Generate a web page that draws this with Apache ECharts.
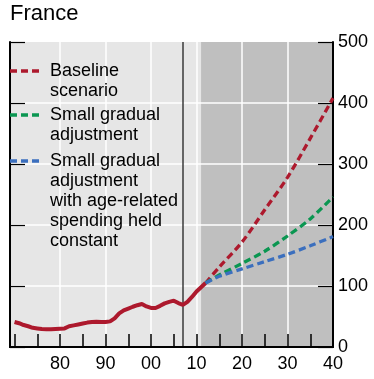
<!DOCTYPE html>
<html>
<head>
<meta charset="utf-8">
<script src="https://cdn.jsdelivr.net/npm/echarts@6/dist/echarts.min.js"></script>
<style>
html,body{margin:0;padding:0;background:#fff;}
#chart{width:374px;height:379px;}
</style>
</head>
<body>
<div id="chart"></div>
<script>
// ---- data ----
const histYears = [1970,1971,1972,1973,1974,1975,1976,1977,1978,1979,1980,1981,1982,1983,1984,1985,1986,1987,1988,1989,1990,1991,1992,1993,1994,1995,1996,1997,1998,1999,2000,2001,2002,2003,2004,2005,2006,2007,2008,2009,2010,2011,2012];
const histValues = [41,39,36,34,31.5,30.5,29.5,29,29,29.5,30,30.5,34,35.5,37,38.5,40,41,41.5,41,41,42,47,55,60,63,66,68.5,70.5,66.5,64,64,67.5,71.5,74,76,72,69,74,82,91,98,105];
const projYears = [2012,2015,2020,2025,2030,2035,2040];
const baseline = [105,131,172,225,278,342,408];
const smallAdj = [105,118,137,157,182,210,246];
const smallAdjAge = [105,116,128,140,152,166,181];
const xLabelYears = [1980,1990,2000,2010,2020,2030,2040];
const xTickYears = [1970,1975,1980,1985,1990,1995,2000,2005,2010,2015,2020,2025,2030,2035];
const gridYears = [1980,1990,2000,2010,2020,2030];
const gridValues = [100,200,300,400];
const cutoffYear = 2007;
const projStart = 2011;
const legendNames = ['Baseline\nscenario','Small gradual\nadjustment','Small gradual\nadjustment\nwith age-related\nspending held\nconstant'];
const titleText = 'France';

// ---- style ----
const FONT = '"Liberation Sans", Arial, Helvetica, sans-serif';
const RED = '#ad192d', GREEN = '#0a9651', BLUE = '#3b6fbe';
const xMin = 1969, xMax = 2040;

const pair = (xs, ys) => xs.map((x, i) => [x, ys[i]]);

const chart = echarts.init(document.getElementById('chart'), null, {renderer: 'canvas'});

const axisLineStyle = {lineStyle: {color: '#000', width: 2}};

const markLineData = [];
gridYears.forEach(y => markLineData.push({xAxis: y, lineStyle: {color: '#fff', width: 1.5, type: 'solid'}}));
gridValues.forEach(v => markLineData.push({yAxis: v, lineStyle: {color: '#fff', width: 1.5, type: 'solid'}}));
markLineData.push({xAxis: cutoffYear, lineStyle: {color: '#3a3a3a', width: 1.5, type: 'solid'}});

const legendTops = [61, 105, 151];
const legendColors = [RED, GREEN, BLUE];
const graphics = [{
  type: 'text', left: 10, top: 3, z: 100,
  style: {text: titleText, font: '22px ' + FONT, fill: '#000'}
}];
legendNames.forEach((name, i) => {
  graphics.push({
    type: 'line', z: 100,
    shape: {x1: 10, y1: legendTops[i] + 10, x2: 41, y2: legendTops[i] + 10},
    style: {stroke: legendColors[i], lineWidth: 3.3, lineDash: [7, 4]}
  });
  graphics.push({
    type: 'text', z: 100, x: 50, y: legendTops[i],
    style: {text: name, font: '18px ' + FONT, fill: '#000', lineHeight: 20, verticalAlign: 'top'}
  });
});

const option = {
  animation: false,
  backgroundColor: '#fff',
  textStyle: {fontFamily: FONT},
  grid: {left: 10, right: 41, top: 42, bottom: 32, show: true, backgroundColor: '#e6e6e6', borderWidth: 0, containLabel: false},
  xAxis: [{
    type: 'value', min: xMin, max: xMax, position: 'bottom', z: 6,
    axisLine: axisLineStyle,
    axisTick: {show: true, inside: true, length: 13, customValues: xTickYears, lineStyle: {color: '#000', width: 1.5}},
    axisLabel: {customValues: xLabelYears, fontSize: 18, color: '#000', margin: 8, fontFamily: FONT,
      formatter: v => String(v % 100).padStart(2, '0')},
    splitLine: {show: false}
  }, {
    type: 'value', min: xMin, max: xMax, position: 'top', z: 6,
    axisLine: axisLineStyle, axisTick: {show: false}, axisLabel: {show: false}, splitLine: {show: false}
  }],
  yAxis: [{
    type: 'value', min: 0, max: 500, interval: 100, position: 'right', z: 6,
    axisLine: {show: true, lineStyle: {color: '#000', width: 2}},
    axisTick: {show: true, inside: true, length: 15, lineStyle: {color: '#000', width: 1.2}},
    axisLabel: {fontSize: 18, color: '#000', margin: 5, fontFamily: FONT},
    splitLine: {show: false}
  }, {
    type: 'value', min: 0, max: 500, interval: 100, position: 'left', z: 6,
    axisLine: {show: true, lineStyle: {color: '#000', width: 2}},
    axisTick: {show: true, inside: true, length: 15, lineStyle: {color: '#000', width: 1.2}},
    axisLabel: {show: false},
    splitLine: {show: false}
  }],
  series: [{
    name: 'shade', type: 'line', data: [], z: 1, silent: true,
    markArea: {silent: true, z: 1, itemStyle: {color: '#bfbfbf'}, data: [[{xAxis: projStart}, {xAxis: xMax}]]}
  }, {
    name: 'gridlines', type: 'line', data: [], z: 2, silent: true,
    markLine: {silent: true, z: 2, symbol: 'none', label: {show: false}, animation: false, data: markLineData}
  }, {
    name: 'Historical', type: 'line', z: 8, data: pair(histYears, histValues), symbol: 'none',
    lineStyle: {color: RED, width: 4}, itemStyle: {color: RED}
  }, {
    name: 'Baseline scenario', type: 'line', z: 8, data: pair(projYears, baseline), symbol: 'none', smooth: 0.3,
    lineStyle: {color: RED, width: 3.3, type: [7, 4]}, itemStyle: {color: RED}
  }, {
    name: 'Small gradual adjustment', type: 'line', z: 8, data: pair(projYears, smallAdj), symbol: 'none', smooth: 0.3,
    lineStyle: {color: GREEN, width: 3.3, type: [7, 4]}, itemStyle: {color: GREEN}
  }, {
    name: 'Small gradual adjustment with age-related spending held constant', type: 'line', z: 8, data: pair(projYears, smallAdjAge), symbol: 'none', smooth: 0.3,
    lineStyle: {color: BLUE, width: 3.3, type: [7, 4]}, itemStyle: {color: BLUE}
  }],
  graphic: graphics
};
chart.setOption(option);
</script>
</body>
</html>
